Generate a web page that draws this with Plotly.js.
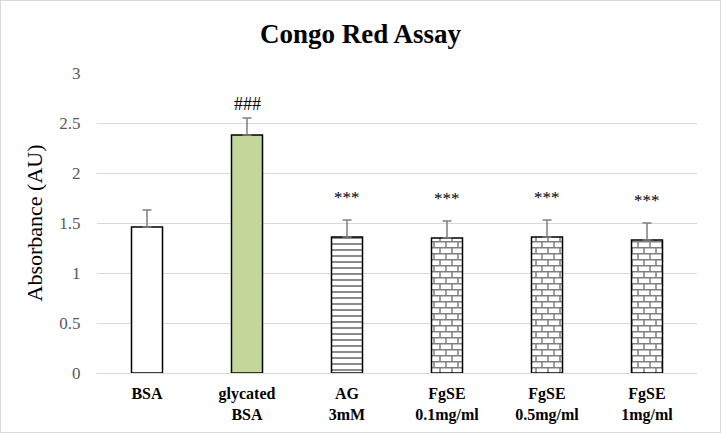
<!DOCTYPE html>
<html><head><meta charset="utf-8">
<script src="https://cdn.plot.ly/plotly-3.0.1.min.js"></script>
<style>html,body{margin:0;padding:0;background:#fff}#c{width:719px;height:431px;border:1px solid #d9d9d9}
#warm{position:absolute;left:2px;top:2px;color:rgba(255,255,255,0);font-family:'Liberation Serif';font-size:12px;pointer-events:none}</style>
</head><body><div id="warm">Absorbance 0123456789 <b>Bold</b> ***###</div><div id="c"></div>
<script>
const categories = ['BSA', 'glycated<br>BSA', 'AG<br>3mM', 'FgSE<br>0.1mg/ml', 'FgSE<br>0.5mg/ml', 'FgSE<br>1mg/ml'];
const values = [1.46, 2.38, 1.36, 1.35, 1.36, 1.33];
const errors = [0.17, 0.17, 0.17, 0.17, 0.17, 0.17];
const sigLabels = ['', '###', '***', '***', '***', '***'];
const fillColors = ['#ffffff', '#c4d79b', '#ffffff', '#ffffff', '#ffffff', '#ffffff'];
const patterns = ['', '', '-', '+', '+', '+'];

const serif = 'Liberation Serif';
const trace = {
  type: 'bar', x: categories, y: values,
  marker: {color: fillColors, line: {color: '#000', width: 1.5},
    pattern: {shape: patterns, fgcolor: '#000', size: 6, solidity: 0.3, fillmode: 'overlay'}},
  error_y: {type: 'data', array: errors, visible: true, symmetric: false, arrayminus: errors.map(()=>0), color: '#7f7f7f', thickness: 1.5, width: 4.5},
  hoverinfo: 'none'
};
const annotations = categories.map((c, i) => ({
  x: c, y: values[i] + errors[i], xref: 'x', yref: 'y', text: sigLabels[i], showarrow: false,
  yanchor: 'middle', yshift: sigLabels[i] === '###' ? 14 : 23,
  font: {family: serif, size: sigLabels[i] === '###' ? 18 : 17, color: '#000'}
}));
const layout = {
  width: 719, height: 431,
  margin: {l: 96, r: 23, t: 72, b: 59},
  paper_bgcolor: '#fff', plot_bgcolor: '#fff',
  font: {family: serif},
  title: {text: '<b>Congo Red Assay</b>', font: {family: serif, size: 27, color: '#000'}, x: 0.5, xanchor: 'center', y: 0.925, yanchor: 'middle'},
  bargap: 0.69, showlegend: false, hovermode: false,
  xaxis: {tickfont: {family: serif, size: 16, color: '#000'}, showline: false, ticks: 'outside', ticklen: 6, tickcolor: 'rgba(0,0,0,0)',
    tickprefix: '<b>', ticksuffix: '</b>', fixedrange: true},
  yaxis: {range: [0, 3], dtick: 0.5, gridcolor: '#d9d9d9', gridwidth: 1, zeroline: true, zerolinecolor: '#d9d9d9', zerolinewidth: 1, fixedrange: true,
    ticks: 'outside', ticklen: 12, tickcolor: 'rgba(0,0,0,0)',
    tickfont: {family: serif, size: 17, color: '#595959'},
    title: {text: 'Absorbance (AU)', font: {family: serif, size: 22, color: '#000'}, standoff: 10}},
  annotations: annotations
};
function fixPatterns() {
  document.querySelectorAll('#c pattern').forEach(p => {
    const path = p.querySelector('path');
    if (!path) return;
    path.setAttribute('stroke', '#000');
    path.style.stroke = '#000';
    const d = path.getAttribute('d') || '';
    if ((d.match(/M/g) || []).length >= 2) {
      // brick pattern instead of the plain grid
      p.setAttribute('width', 12); p.setAttribute('height', 12);
      p.querySelectorAll('rect').forEach(r => { r.setAttribute('width', 12); r.setAttribute('height', 12); });
      path.setAttribute('d', 'M0,0.75L12,0.75M0,6.75L12,6.75M1,0L1,6.75M7,6.75L7,12');
      path.setAttribute('stroke-width', '1.5');
      path.style.strokeWidth = '1.5px';
    }
  });
}
const ready = (document.fonts && document.fonts.load) ?
  Promise.all([document.fonts.load('16px "Liberation Serif"'), document.fonts.load('bold 16px "Liberation Serif"')]).catch(()=>{}) : Promise.resolve();
ready.then(() => Plotly.newPlot('c', [trace], layout, {displayModeBar: false})).then(fixPatterns);
</script></body></html>
